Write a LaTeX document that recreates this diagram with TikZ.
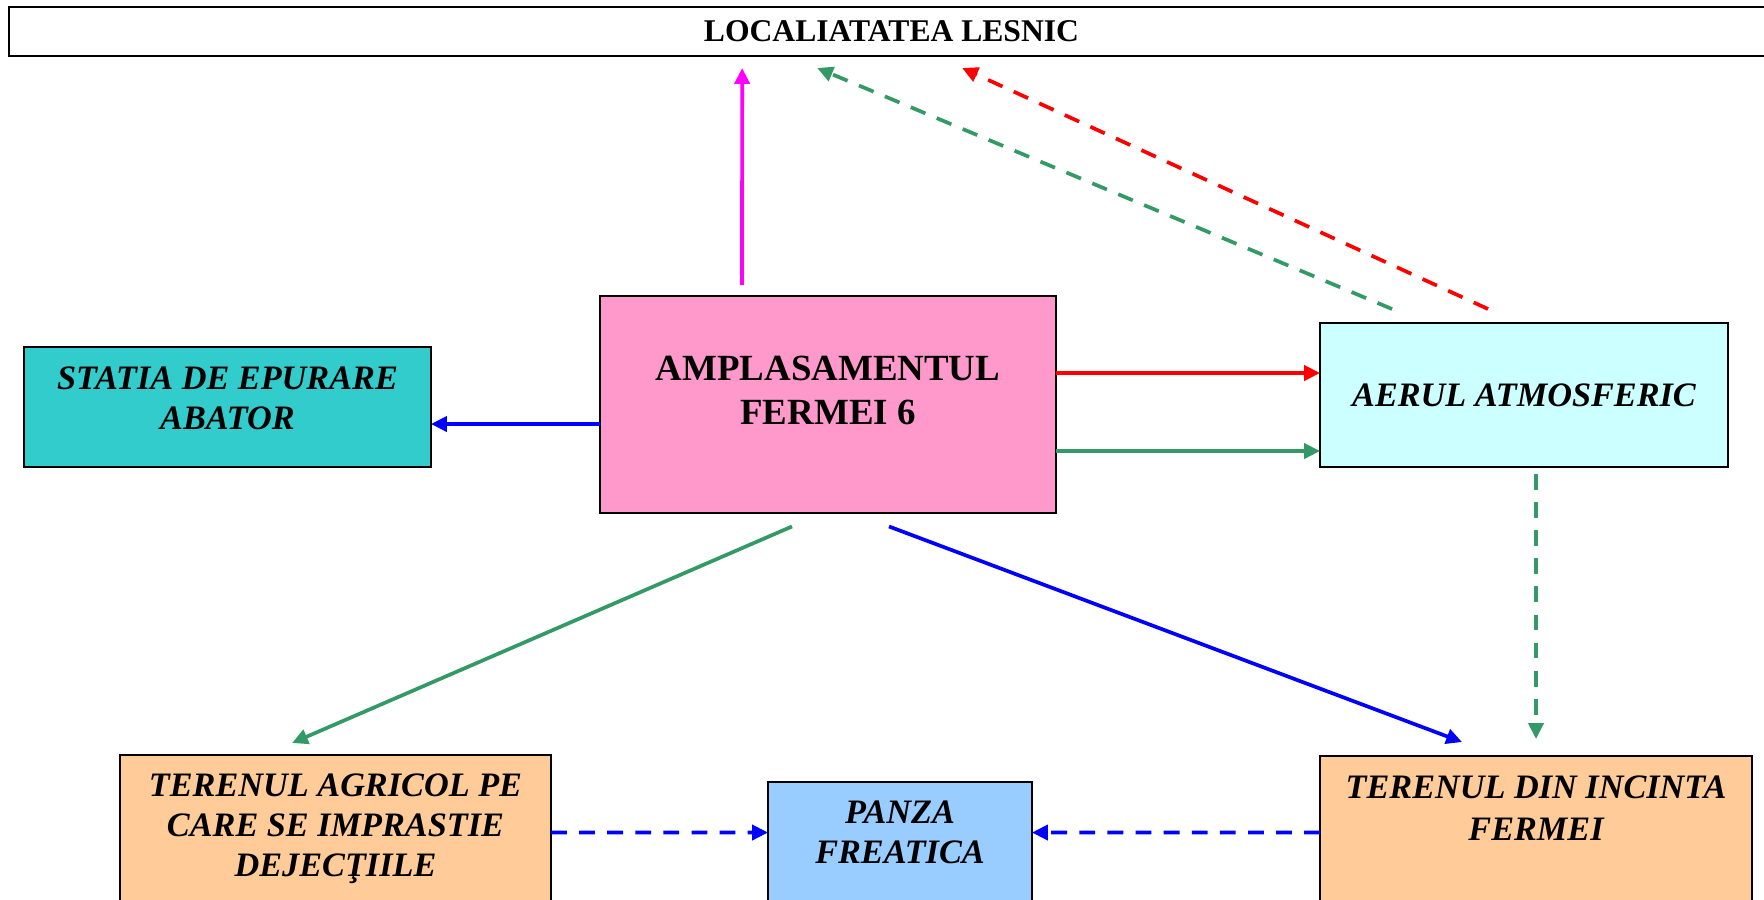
\documentclass[tikz,border=0pt]{standalone}
\usepackage{fontspec}
\setmainfont{Liberation Serif}
\usetikzlibrary{calc,arrows.meta}
\definecolor{ampfill}{HTML}{FF99CC}
\definecolor{statfill}{HTML}{33CCCC}
\definecolor{aerfill}{HTML}{CCFFFF}
\definecolor{terfill}{HTML}{FFCC99}
\definecolor{panzafill}{HTML}{99CCFF}
\definecolor{seagreen}{HTML}{339966}
\definecolor{pinkline}{HTML}{FF00FF}
\definecolor{redline}{HTML}{FF0000}
\definecolor{blueline}{HTML}{0000FF}
\tikzset{
	box/.style={draw=black, line width=1.1pt, inner sep=0pt, outer sep=0pt},
	boxtext/.style={align=center, font=\fontsize{19.5}{22.7}\selectfont\bfseries\itshape},
	amptext/.style={align=center, font=\fontsize{21}{25}\selectfont\bfseries},
	arr/.style={line width=2.1pt, -{Triangle[length=9pt,width=8.5pt]}},
	dasharr/.style={arr, dash pattern=on 9pt off 7pt},
}

\begin{document}
\begin{tikzpicture}[x=0.02cm, y=-0.02cm]
		\useasboundingbox (0,0) rectangle (1764,899);
		%%%%% BOXES %%%%%
		
		\node[box, line width=1.4pt, minimum width=35.3cm, minimum height=0.98cm, font=\fontsize{18}{21}\selectfont\bfseries] (loc) at (891.5,31.5) {LOCALIATATEA LESNIC};
		
		\node[box, fill=ampfill, minimum width=9.12cm, minimum height=4.34cm, label={[amptext, yshift=0.29cm]center:{AMPLASAMENTUL\\FERMEI 6}}] (amp) at (828,404.5) {};
		\node[box, fill=statfill, minimum width=8.14cm, minimum height=2.4cm, label={[boxtext, yshift=0.18cm]center:{STATIA DE EPURARE\\ABATOR}}] (stat) at (227.5,407) {};
		\node[box, fill=aerfill, minimum width=8.16cm, minimum height=2.88cm, label={[boxtext]center:{AERUL ATMOSFERIC}}] (aer) at (1524,395) {};
		
		\node[box, fill=terfill, minimum width=8.62cm, minimum height=3.0cm, label={[boxtext, yshift=0.03cm]center:{TERENUL AGRICOL PE\\CARE SE IMPRASTIE\\DEJECŢIILE}}] (agri) at (335.5,830) {};
		\node[box, fill=panzafill, minimum width=5.28cm, minimum height=2.46cm, label={[boxtext, yshift=0.23cm]center:{PANZA\\FREATICA}}] (panza) at (900,843.5) {};
		\node[box, fill=terfill, minimum width=8.64cm, minimum height=2.98cm, label={[boxtext, yshift=0.45cm, font=\fontsize{19.5}{23.5}\selectfont\bfseries\itshape]center:{TERENUL DIN INCINTA\\FERMEI}}] (ter) at (1536,830.5) {};
		
		%%%%% ARROWS %%%%%
		
		\draw[arr, color=pinkline] ($(amp.north)+(-86,-11)$) -- ($(loc.south west)+(733,12)$);
		\draw[dasharr, color=seagreen] ($(aer.north west)+(72,-14)$) -- ($(loc.south west)+(808,12)$);
		\draw[dasharr, color=redline] ($(aer.north west)+(168,-14)$) -- ($(loc.south west)+(953,12)$);
		
		\draw[arr, color=redline] ($(amp.north east)+(0,77)$) -- ($(aer.north west)+(0,50)$);
		\draw[arr, color=seagreen] ($(amp.north east)+(0,155)$) -- ($(aer.north west)+(0,128)$);
		\draw[arr, color=blueline] ($(amp.north west)+(0,128)$) -- ($(stat.north east)+(0,77)$);
		
		\draw[arr, color=seagreen] ($(amp.south)+(-36,13.5)$) -- ($(agri.north west)+(172,-12)$);
		\draw[arr, color=blueline] ($(amp.south)+(61,13.5)$) -- ($(ter.north west)+(142,-14)$);
		\draw[dasharr, color=seagreen] ($(aer.south)+(12,7)$) -- ($(ter.north)+(0,-17)$);
		
		\draw[dasharr, color=blueline] ($(agri.north east)+(0,77.5)$) -- ($(panza.north west)+(0,50.5)$);
		\draw[dasharr, color=blueline] ($(ter.north west)+(0,76.5)$) -- ($(panza.north east)+(0,50.5)$);
		
		%%%%% END %%%%%
\end{tikzpicture}
\end{document}
